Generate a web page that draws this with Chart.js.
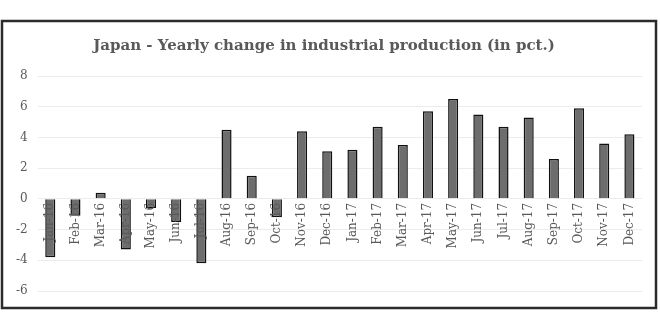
<!DOCTYPE html>
<html>
<head>
<meta charset="utf-8">
<script src="https://cdn.jsdelivr.net/npm/chart.js@4"></script>
<style>
  html, body { margin: 0; padding: 0; background: #ffffff; }
  #wrap { width: 660px; height: 330px; }
</style>
</head>
<body>
<div id="wrap"><canvas id="c" width="660" height="330"></canvas></div>
<script>
const categories = ["Jan-16","Feb-16","Mar-16","Apr-16","May-16","Jun-16","Jul-16","Aug-16","Sep-16","Oct-16","Nov-16","Dec-16",
                    "Jan-17","Feb-17","Mar-17","Apr-17","May-17","Jun-17","Jul-17","Aug-17","Sep-17","Oct-17","Nov-17","Dec-17"];
const yearlyChange = [-3.8,-1.1,0.4,-3.3,-0.6,-1.5,-4.2,4.5,1.5,-1.2,4.4,3.1,
                      3.2,4.7,3.5,5.7,6.5,5.5,4.7,5.3,2.6,5.9,3.6,4.2];
const yTickMin = -6;
const yTickMax = 8;
const yTickStep = 2;
const titleText = "Japan - Yearly change in industrial production (in pct.)";

const frame = {
  id: 'frame',
  afterDraw(chart) {
    const ctx = chart.ctx;
    ctx.save();
    ctx.strokeStyle = '#2b2b2b';
    ctx.lineWidth = 2.5;
    ctx.strokeRect(2, 21, 654, 287);
    ctx.restore();
  }
};

new Chart(document.getElementById('c'), {
  type: 'bar',
  data: {
    labels: categories,
    datasets: [{
      data: yearlyChange,
      backgroundColor: '#6d6d6d',
      borderColor: '#111111',
      borderWidth: 1.5,
      categoryPercentage: 1.0,
      barPercentage: 0.4
    }]
  },
  options: {
    responsive: false,
    animation: false,
    devicePixelRatio: 1,
    layout: { padding: { left: 6, right: 18, top: 21, bottom: 39 } },
    plugins: {
      legend: { display: false },
      tooltip: { enabled: false },
      title: {
        display: true,
        text: titleText,
        color: '#595959',
        font: { family: 'DejaVu Serif', size: 15, weight: 'bold' },
        padding: { top: 16, bottom: 21 }
      }
    },
    scales: {
      x: {
        position: { y: 0 },
        grid: { display: false, drawTicks: false },
        border: { display: false },
        ticks: {
          z: 1,
          autoSkip: false,
          maxRotation: 90,
          minRotation: 90,
          padding: 4,
          color: '#595959',
          font: { family: 'DejaVu Serif', size: 12 }
        }
      },
      y: {
        min: yTickMin,
        max: yTickMax,
        grid: { color: '#ececec', drawTicks: false, lineWidth: 1 },
        border: { display: false },
        ticks: {
          stepSize: yTickStep,
          padding: 10,
          color: '#595959',
          font: { family: 'DejaVu Serif', size: 12 }
        }
      }
    }
  },
  plugins: [frame]
});
</script>
</body>
</html>
